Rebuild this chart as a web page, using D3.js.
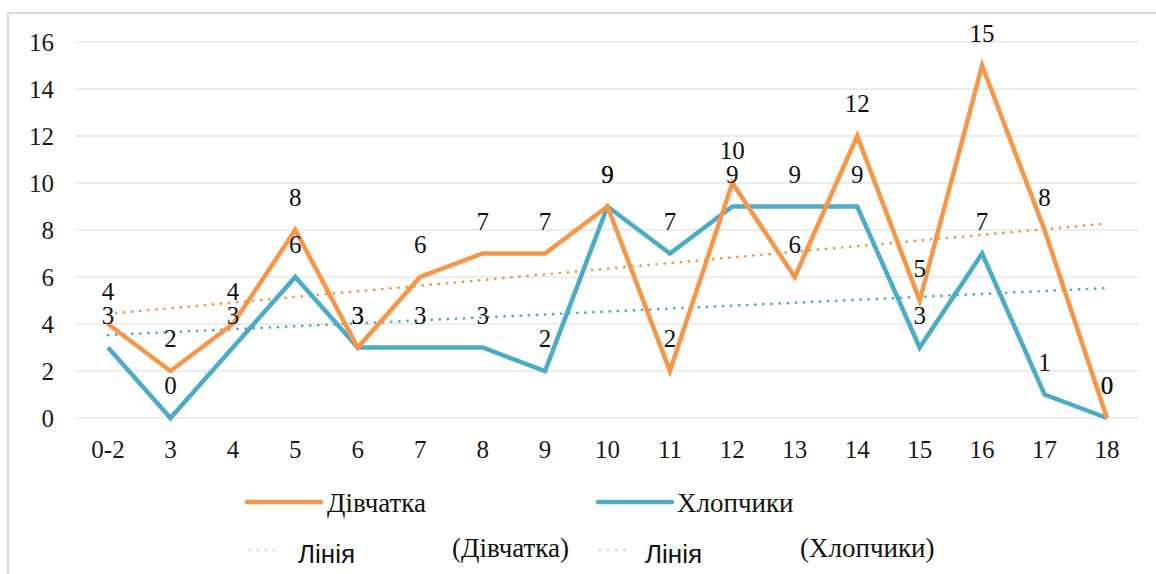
<!DOCTYPE html>
<html>
<head>
<meta charset="utf-8">
<script src="https://cdn.jsdelivr.net/npm/d3@7"></script>
</head>
<body style="margin:0">
<svg id="chart" width="1156" height="574"></svg>
<script>
// Age groups along the x axis
const categories = ["0-2","3","4","5","6","7","8","9","10","11","12","13","14","15","16","17","18"];
// Counts per age group
const girls = [4,2,4,8,3,6,7,7,9,2,10,6,12,5,15,8,0];
const boys  = [3,0,3,6,3,3,3,2,9,7,9,9,9,3,7,1,0];
const yTicks = [0,2,4,6,8,10,12,14,16];

const orange = "#F79646";
const blue = "#4BACC6";
const SERIF = "Liberation Serif";
const SANS = "Liberation Sans";

const svg = d3.select("#chart");

// Outer frame of the chart area
svg.append("rect")
  .attr("x", 8).attr("y", 13)
  .attr("width", 1170).attr("height", 600)
  .attr("fill", "#fff")
  .attr("stroke", "#d9d9d9").attr("stroke-width", 2);

const x = d3.scaleBand().domain(categories).range([76.8, 1138.2]);
const y = d3.scaleLinear().domain([0, 16]).range([418, 42]);
const cx = c => x(c) + x.bandwidth() / 2;

// Horizontal gridlines
svg.append("g").selectAll("line").data(yTicks).join("line")
  .attr("x1", 76.8).attr("x2", 1138.2)
  .attr("y1", d => y(d)).attr("y2", d => y(d))
  .attr("stroke", "#d9d9d9").attr("stroke-width", 1.2);

// Y axis labels
const yAxis = svg.append("g")
  .attr("transform", "translate(54,0)")
  .call(d3.axisLeft(y).tickValues(yTicks).tickSize(0).tickPadding(0));
yAxis.select(".domain").remove();
yAxis.attr("font-family", SERIF).attr("font-size", 25);
yAxis.selectAll("text")
  .attr("dy", null).attr("y", 8)
  .style("font-family", SERIF).style("font-size", "25px").attr("fill", "#1a1a1a");

// X axis labels
const xAxis = svg.append("g")
  .attr("transform", "translate(0,458)")
  .call(d3.axisBottom(x).tickSize(0).tickPadding(0));
xAxis.select(".domain").remove();
xAxis.attr("font-family", SERIF).attr("font-size", 25);
xAxis.selectAll("text")
  .attr("dy", null).attr("y", 0)
  .style("font-family", SERIF).style("font-size", "25px").attr("fill", "#1a1a1a");

// Least-squares trend over the category index
function trend(vals) {
  const n = vals.length;
  const mx = d3.mean(vals, (_, i) => i);
  const my = d3.mean(vals);
  let sxy = 0, sxx = 0;
  vals.forEach((v, i) => { sxy += (i - mx) * (v - my); sxx += (i - mx) ** 2; });
  const b = sxy / sxx, a = my - b * mx;
  return [[0, a], [n - 1, a + b * (n - 1)]];
}

const trendLine = d3.line()
  .x(d => cx(categories[d[0]]))
  .y(d => y(d[1]));

[[girls, orange], [boys, blue]].forEach(([vals, col]) => {
  svg.append("path")
    .attr("d", trendLine(trend(vals)))
    .attr("fill", "none")
    .attr("stroke", col).attr("stroke-width", 2.7)
    .attr("stroke-linecap", "round")
    .attr("stroke-dasharray", "0.1 8");
});

const line = d3.line()
  .x((d, i) => cx(categories[i]))
  .y(d => y(d));

// Boys drawn first so the girls' line sits on top
[[boys, blue], [girls, orange]].forEach(([vals, col]) => {
  svg.append("path")
    .attr("d", line(vals))
    .attr("fill", "none")
    .attr("stroke", col).attr("stroke-width", 4.5)
    .attr("stroke-linejoin", "miter");
});

// Value labels above each point
[boys, girls].forEach(vals => {
  svg.append("g").selectAll("text").data(vals).join("text")
    .attr("x", (d, i) => cx(categories[i]))
    .attr("y", d => y(d) - 24)
    .attr("text-anchor", "middle")
    .style("font-family", SERIF).style("font-size", "25px").attr("fill", "#111")
    .text(d => d);
});

// Legend
const lg = svg.append("g");
function legendSolid(x0, x1, tx, col, label) {
  lg.append("line").attr("x1", x0).attr("x2", x1).attr("y1", 502).attr("y2", 502)
    .attr("stroke", col).attr("stroke-width", 4.5).attr("stroke-linecap", "round");
  lg.append("text").attr("x", tx).attr("y", 512)
    .style("font-family", SERIF).style("font-size", "27px").attr("fill", "#111").text(label);
}
function legendDotted(x0, x1, col, wordX, paren, parenX) {
  lg.append("line").attr("x1", x0).attr("x2", x1).attr("y1", 550).attr("y2", 550)
    .attr("stroke", col).attr("stroke-width", 2.2).attr("stroke-opacity", 0.6)
    .attr("stroke-linecap", "round").attr("stroke-dasharray", "0.1 8");
  lg.append("text").attr("x", wordX).attr("y", 563)
    .style("font-family", SANS).style("font-size", "26px").attr("fill", "#111").text("Лінія");
  lg.append("text").attr("x", parenX).attr("y", 557)
    .style("font-family", SERIF).style("font-size", "27px").attr("fill", "#111").text(paren);
}
legendSolid(247, 321, 327, orange, "Дівчатка");
legendSolid(598, 672, 677, blue, "Хлопчики");
legendDotted(250, 275, orange, 298, "(Дівчатка)", 452);
legendDotted(600, 625, blue, 645, "(Хлопчики)", 800);
</script>
</body>
</html>
